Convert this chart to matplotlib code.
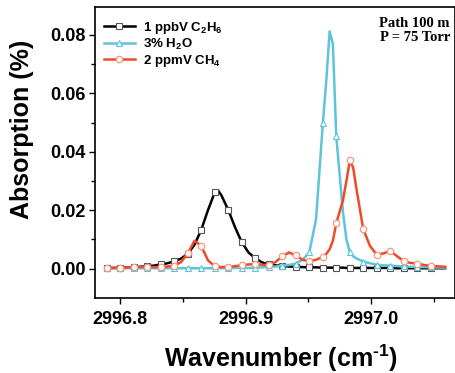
import numpy as np
import matplotlib
matplotlib.use('Agg')
import matplotlib.pyplot as plt

plt.rcParams['font.family'] = ['Liberation Sans', 'DejaVu Sans']
plt.rcParams['font.weight'] = 'bold'
plt.rcParams['mathtext.fontset'] = 'custom'
plt.rcParams['mathtext.rm'] = 'Liberation Sans:bold'
plt.rcParams['mathtext.default'] = 'rm'

# Wellenzahl-Raster (cm^-1): halbe Schritte + ein paar Zusatzpunkte an den Peaks
wavenumber = [
    2996.7894, 2996.7948, 2996.8002, 2996.8056, 2996.8109, 2996.8163, 2996.8217, 2996.8271,
    2996.8324, 2996.8378, 2996.8432, 2996.8486, 2996.8540, 2996.8594, 2996.8647, 2996.8701,
    2996.8755, 2996.8782, 2996.8809, 2996.8862, 2996.8916, 2996.8970, 2996.9024, 2996.9078,
    2996.9132, 2996.9185, 2996.9239, 2996.9293, 2996.9347, 2996.9400, 2996.9454, 2996.9508,
    2996.9562, 2996.9616, 2996.9643, 2996.9670, 2996.9696, 2996.9723, 2996.9777, 2996.9804,
    2996.9831, 2996.9858, 2996.9885, 2996.9938, 2996.9992, 2997.0046, 2997.0100, 2997.0154,
    2997.0208, 2997.0261, 2997.0315, 2997.0369, 2997.0423, 2997.0476, 2997.0590,
]

# Messpunkte mit Symbol (jeder zweite Rasterpunkt)
marker_wn = [
    2996.7894, 2996.8002, 2996.8109, 2996.8217, 2996.8324, 2996.8432, 2996.8540, 2996.8647,
    2996.8755, 2996.8862, 2996.8970, 2996.9078, 2996.9185, 2996.9293, 2996.9400, 2996.9508,
    2996.9616, 2996.9723, 2996.9831, 2996.9938, 2997.0046, 2997.0154, 2997.0261, 2997.0369,
    2997.0476,
]

c2h6 = [
    0.0002, 0.0002, 0.0003, 0.0004, 0.0005, 0.0006, 0.0008, 0.0010,
    0.0014, 0.0018, 0.0025, 0.0034, 0.0050, 0.0082, 0.0132, 0.0200,
    0.0261, 0.0267, 0.0250, 0.0201, 0.0142, 0.0090, 0.0055, 0.0035,
    0.0021, 0.0014, 0.0011, 0.0009, 0.0007, 0.0006, 0.0005, 0.0004,
    0.0004, 0.0003, 0.0003, 0.0003, 0.0003, 0.0003, 0.0003, 0.0002,
    0.0002, 0.0002, 0.0002, 0.0002, 0.0002, 0.0002, 0.0002, 0.0002,
    0.0001, 0.0001, 0.0001, 0.0001, 0.0001, 0.0001, 0.0001,
]

h2o = [
    0.0001, 0.0001, 0.0001, 0.0001, 0.0001, 0.0001, 0.0001, 0.0001,
    0.0001, 0.0001, 0.0001, 0.0001, 0.0001, 0.0001, 0.0001, 0.0001,
    0.0001, 0.0001, 0.0001, 0.0001, 0.0002, 0.0002, 0.0002, 0.0003,
    0.0004, 0.0005, 0.0007, 0.0010, 0.0012, 0.0017, 0.0030, 0.0055,
    0.0169, 0.0497, 0.0640, 0.0812, 0.0770, 0.0454, 0.0190, 0.0100,
    0.0056, 0.0042, 0.0034, 0.0024, 0.0018, 0.0013, 0.0011, 0.0010,
    0.0008, 0.0007, 0.0006, 0.0005, 0.0005, 0.0004, 0.0003,
]

ch4 = [
    0.0002, 0.0002, 0.0003, 0.0004, 0.0005, 0.0005, 0.0005, 0.0005,
    0.0005, 0.0007, 0.0010, 0.0022, 0.0052, 0.0095, 0.0078, 0.0028,
    0.0008, 0.0006, 0.0005, 0.0006, 0.0008, 0.0011, 0.0014, 0.0015,
    0.0013, 0.0012, 0.0022, 0.0042, 0.0055, 0.0045, 0.0030, 0.0025,
    0.0030, 0.0040, 0.0050, 0.0066, 0.0095, 0.0155, 0.0235, 0.0300,
    0.0370, 0.0345, 0.0270, 0.0135, 0.0077, 0.0047, 0.0052, 0.0060,
    0.0042, 0.0025, 0.0019, 0.0017, 0.0012, 0.0009, 0.0006,
]

wn = np.array(wavenumber)
mark_idx = [int(np.argmin(np.abs(wn - m))) for m in marker_wn]

fig = plt.figure(figsize=(4.55, 3.73), dpi=100)
ax = fig.add_axes([0.2088, 0.201, 0.7912, 0.779])

ax.plot(wn, c2h6, color='black', lw=1.8, marker='s', ms=4.2, mfc='white',
        mec='#555555', mew=0.8, markevery=mark_idx, label='1 ppbV C$_2$H$_6$')
ax.plot(wn, h2o, color='#5ec4dc', lw=1.8, marker='^', ms=4.6, mfc='white',
        mec='#5ec4dc', mew=0.8, markevery=mark_idx, label='3% H$_2$O')
ax.plot(wn, ch4, color='#f04a28', lw=1.8, marker='o', ms=4.6, mfc='white',
        mec='#f59880', mew=0.9, markevery=mark_idx, label='2 ppmV CH$_4$')

ax.set_xlim(2996.7801, 2997.0669)
ax.set_ylim(-0.0101, 0.0894)
ax.set_xticks([2996.8, 2996.9, 2997.0])
ax.set_xticklabels(['2996.8', '2996.9', '2997.0'])
ax.set_xticks([2996.85, 2996.95, 2997.05], minor=True)
ax.set_yticks([0.00, 0.02, 0.04, 0.06, 0.08])
ax.set_yticklabels(['0.00', '0.02', '0.04', '0.06', '0.08'])
ax.set_yticks([0.01, 0.03, 0.05, 0.07], minor=True)
ax.tick_params(which='major', direction='out', length=4, width=1, labelsize=13, pad=3)
ax.tick_params(axis='x', which='major', pad=5)
ax.tick_params(which='minor', direction='out', length=3, width=1)
for s in ax.spines.values():
    s.set_linewidth(1.2)

ax.set_xlabel(r'Wavenumber (cm$^{\text{-}1}$)', fontsize=18, fontweight='bold')
ax.set_ylabel('Absorption (%)', fontsize=18, fontweight='bold')
ax.xaxis.set_label_coords(0.517, -0.155)
ax.yaxis.set_label_coords(-0.17, 0.582)

ax.legend(loc='upper left', frameon=False, fontsize=9.5, handlelength=2.3,
          handletextpad=0.6, labelspacing=0.08, borderaxespad=0.3,
          bbox_to_anchor=(0.0, 0.99))

ax.text(0.986, 0.967, 'Path 100 m\nP = 75 Torr', transform=ax.transAxes,
        ha='right', va='top', family='Liberation Serif', fontweight='bold',
        fontsize=10.5, linespacing=1.1)

fig.savefig('out.png', dpi=100)
